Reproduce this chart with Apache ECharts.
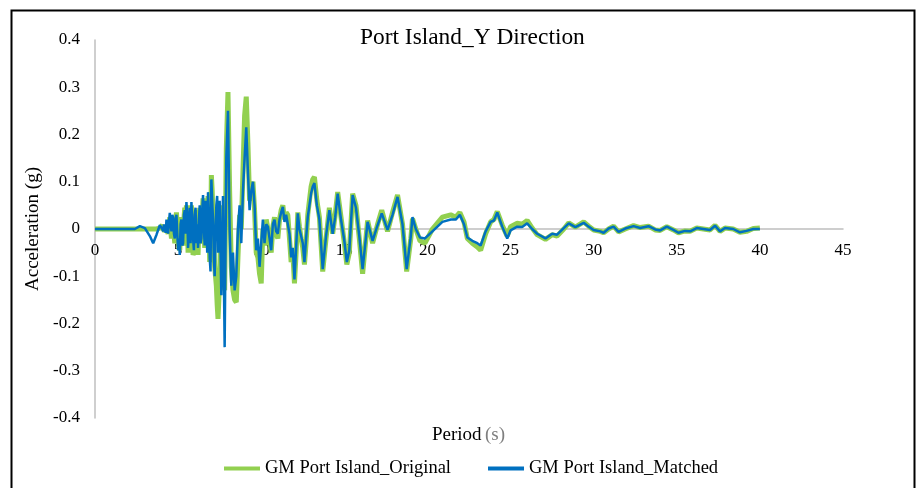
<!DOCTYPE html>
<html>
<head>
<meta charset="utf-8">
<script src="https://cdn.jsdelivr.net/npm/echarts@6/dist/echarts.min.js"></script>
<style>
html,body{margin:0;padding:0;background:#fff;}
#chart{width:917px;height:488px;}
</style>
</head>
<body>
<div id="chart"></div>
<script>
// Time (s)
const time = [
  0, 2.4, 2.7, 3.0, 3.3, 3.5, 3.7, 3.9,
  4.00, 4.05, 4.10, 4.15, 4.20, 4.25, 4.30, 4.35, 4.40, 4.45,
  4.50, 4.55, 4.60, 4.65, 4.70, 4.75, 4.80, 4.85, 4.90, 4.95,
  5.00, 5.05, 5.10, 5.15, 5.20, 5.25, 5.30, 5.35, 5.40, 5.45,
  5.50, 5.55, 5.60, 5.65, 5.70, 5.75, 5.80, 5.85, 5.90, 5.95,
  6.00, 6.05, 6.10, 6.15, 6.20, 6.25, 6.30, 6.35, 6.40, 6.45,
  6.50, 6.55, 6.60, 6.65, 6.70, 6.75, 6.80, 6.85, 6.90, 6.95,
  7.00, 7.05, 7.10, 7.15, 7.20, 7.25, 7.30, 7.35, 7.40, 7.45, 7.50,
  7.6, 7.7, 7.8, 7.9,
  8.0, 8.1, 8.2, 8.3, 8.4, 8.5, 8.6, 8.7, 8.8, 8.9,
  9.0, 9.1, 9.2, 9.3, 9.4, 9.5, 9.6, 9.7, 9.8, 9.9,
  10.0, 10.1, 10.2, 10.3, 10.4, 10.5, 10.6, 10.7, 10.8, 10.9,
  11.0, 11.1, 11.2, 11.3, 11.4, 11.5, 11.6, 11.7, 11.8, 11.9,
  12.0, 12.1, 12.2, 12.3, 12.4, 12.5, 12.6, 12.7, 12.8, 12.9,
  13.0, 13.1, 13.2, 13.35, 13.5, 13.7, 13.9, 14.1, 14.3, 14.45, 14.6, 14.8,
  15.0, 15.15, 15.3, 15.5, 15.7, 15.9, 16.1, 16.4, 16.7, 17.0, 17.25, 17.6, 17.9,
  18.2, 18.5, 18.75, 19.0, 19.1, 19.3, 19.55, 19.85, 20.3, 20.9, 21.4, 21.7, 21.95,
  22.2, 22.4, 22.7, 23.0, 23.2, 23.5, 23.8, 24.0, 24.2, 24.5, 24.8, 25.0, 25.4,
  25.7, 26.0, 26.3, 26.6, 27.1, 27.5, 27.8, 28.2, 28.5, 28.9, 29.4, 29.7,
  30.0, 30.4, 30.6, 30.9, 31.2, 31.5, 31.9, 32.4, 32.8, 33.3, 33.7, 34.0, 34.4,
  34.8, 35.1, 35.5, 35.8, 36.2, 36.6, 37.0, 37.3, 37.6, 37.9, 38.4, 38.8, 39.2, 39.6, 40.0
];

// GM Port Island_Original (g)
const original = [
  0, 0, 0, 0, 0, 0, 0, 0.002,
  0.005, 0.008, 0.0, -0.004, -0.005, 0.006, 0.01, -0.005, -0.01, 0.01,
  0.025, 0.0, -0.02, 0.01, 0.02, -0.01, -0.03, 0.01, 0.035, 0.0,
  -0.03, -0.04, -0.045, 0.0, 0.025, -0.02, -0.035, 0.02, 0.045, 0.01,
  0.05, 0.02, -0.05, -0.01, 0.04, -0.02, 0.05, 0.0, -0.055, -0.05,
  0.02, 0.04, -0.05, -0.01, -0.055, 0.0, 0.045, -0.02, -0.03, 0.03,
  0.065, 0.01, -0.04, 0.05, 0.03, -0.04, 0.07, 0.02, -0.07, -0.05,
  0.114, 0.08, 0.03, -0.03, -0.08, -0.1, -0.12, -0.16, -0.19, -0.15, -0.1,
  0.05, -0.05, -0.13, 0.17,
  0.29, 0.08, -0.08, -0.13, -0.15, -0.155, -0.06, 0.03, 0.0, 0.12,
  0.24, 0.28, 0.18, 0.06, 0.09, 0.1, 0.04, -0.05, -0.06, -0.095,
  -0.115, 0.0, -0.035, 0.02, 0.0, -0.03, -0.05, 0.005, 0.025, -0.01,
  -0.02, 0.02, 0.04, 0.05, 0.02, 0.035, 0.03, -0.02, -0.07, -0.05,
  -0.115, -0.05, 0.035, 0.005, -0.02, -0.04, -0.075, -0.03, 0.03, 0.06,
  0.09, 0.105, 0.11, 0.06, 0.025, -0.09, -0.02, 0.045, -0.01, 0.03, 0.078, 0.025,
  -0.03, -0.075, -0.05, 0.075, 0.05, -0.02, -0.095, 0.018, -0.03, 0.01, 0.04, -0.005, 0.035,
  0.072, 0.01, -0.09, -0.02, 0.022, 0.0, -0.025, -0.03, 0.0, 0.025, 0.03, 0.025, 0.035,
  0.015, -0.02, -0.03, -0.038, -0.045, -0.01, 0.015, 0.02, 0.037, 0.008, -0.015, 0.005, 0.012,
  0.01, 0.018, 0.002, -0.012, -0.022, -0.012, -0.015, 0.0, 0.013, 0.004, 0.015, 0.006,
  -0.002, -0.005, -0.008, 0.0, 0.006, -0.006, 0.0, 0.007, 0.003, 0.006, -0.002, -0.003, 0.005,
  -0.002, -0.008, -0.004, -0.005, 0.002, 0.0, -0.002, 0.008, -0.005, 0.002, 0.0, -0.007, -0.005, 0.001, 0.002
];

// GM Port Island_Matched (g)
const matched = [
  0, 0, 0.006, 0.002, -0.015, -0.03, -0.012, 0.008,
  0.012, 0.0, -0.005, 0.01, 0.004, -0.008, 0.02, 0.005, -0.01, 0.015,
  0.034, 0.01, -0.005, 0.03, 0.025, -0.01, -0.02, 0.02, 0.03, -0.01,
  -0.045, -0.02, -0.055, 0.01, 0.02, -0.035, -0.03, 0.03, 0.04, -0.01,
  0.057, 0.03, -0.04, 0.0, 0.045, -0.03, 0.057, 0.02, -0.02, -0.045,
  0.03, 0.045, -0.03, 0.01, -0.04, 0.02, 0.05, -0.03, -0.02, 0.04,
  0.072, 0.0, -0.035, 0.06, 0.04, -0.05, 0.078, 0.03, -0.06, -0.09,
  0.105, 0.06, 0.02, -0.06, -0.1, 0.0, 0.05, 0.07, -0.05, 0.02, 0.06,
  -0.14, 0.07, -0.25, 0.15,
  0.25, 0.0, -0.12, -0.05, -0.13, -0.1, 0.0, 0.05, -0.03, 0.08,
  0.15, 0.215, 0.12, 0.04, 0.08, 0.1, 0.05, -0.045, -0.02, -0.08,
  -0.03, 0.02, -0.03, 0.01, 0.005, -0.02, -0.045, 0.01, 0.02, -0.005,
  -0.01, 0.02, 0.035, 0.047, 0.015, 0.03, 0.033, -0.01, -0.06, -0.04,
  -0.107, -0.04, 0.033, 0.0, -0.015, -0.03, -0.07, -0.02, 0.025, 0.05,
  0.075, 0.09, 0.097, 0.05, 0.02, -0.085, -0.015, 0.04, -0.01, 0.025, 0.075, 0.02,
  -0.025, -0.07, -0.045, 0.072, 0.045, -0.015, -0.085, 0.015, -0.025, 0.008, 0.033, -0.002, 0.03,
  0.068, 0.01, -0.085, -0.015, 0.025, 0.0, -0.018, -0.02, -0.005, 0.015, 0.02, 0.02, 0.03,
  0.01, -0.018, -0.025, -0.03, -0.035, -0.005, 0.015, 0.018, 0.035, 0.005, -0.02, -0.003, 0.005,
  0.004, 0.012, 0.0, -0.01, -0.02, -0.01, -0.012, 0.002, 0.012, 0.004, 0.013, 0.005,
  -0.002, -0.005, -0.008, 0.001, 0.005, -0.006, 0.001, 0.006, 0.002, 0.006, -0.001, -0.003, 0.005,
  -0.002, -0.008, -0.004, -0.005, 0.002, 0.0, -0.002, 0.007, -0.005, 0.002, 0.0, -0.007, -0.004, 0.0, 0.0
];

const xTicks = { min: 0, max: 45, interval: 5 };
const yTicks = { min: -0.4, max: 0.4, interval: 0.1 };

const serif = '"Liberation Serif", "Times New Roman", serif';
const chart = echarts.init(document.getElementById('chart'), null, { renderer: 'canvas' });

const zip = (vals) => time.map((t, i) => [t, vals[i]]);

const gridTop = 40, gridBottomPx = 418;
const zeroOffset = -((gridBottomPx - gridTop) * (0 - yTicks.min) / (yTicks.max - yTicks.min));

chart.setOption({
  backgroundColor: '#fff',
  animation: false,
  title: {
    text: 'Port Island_Y Direction',
    left: 355,
    top: 21,
    textStyle: { fontFamily: serif, fontSize: 23.4, fontWeight: 'normal', color: '#000' }
  },
  grid: { left: 95, right: 74, top: gridTop, bottom: 488 - gridBottomPx, containLabel: false },
  legend: {
    bottom: 5,
    left: 219,
    itemWidth: 36,
    itemHeight: 4,
    itemGap: 37,
    icon: 'rect',
    textStyle: { fontFamily: serif, fontSize: 18.5, color: '#000' },
    data: ['GM Port Island_Original', 'GM Port Island_Matched']
  },
  xAxis: {
    type: 'value',
    min: xTicks.min, max: xTicks.max, interval: xTicks.interval,
    offset: zeroOffset,
    axisLine: { show: true, onZero: false, lineStyle: { color: '#BFBFBF', width: 1.5 } },
    axisTick: { show: false },
    splitLine: { show: false },
    axisLabel: { fontFamily: serif, fontSize: 17, color: '#000', margin: 13 }
  },
  yAxis: {
    type: 'value',
    min: yTicks.min, max: yTicks.max, interval: yTicks.interval,
    name: 'Acceleration (g)',
    nameLocation: 'middle',
    nameGap: 45,
    nameTextStyle: { fontFamily: serif, fontSize: 19, color: '#000' },
    axisLine: { show: true, lineStyle: { color: '#BFBFBF', width: 1.5 } },
    axisTick: { show: false },
    splitLine: { show: false },
    axisLabel: { fontFamily: serif, fontSize: 17, color: '#000', margin: 15 }
  },
  graphic: [
    {
      type: 'rect', left: 9, top: 8, z: 100, silent: true,
      shape: { width: 903, height: 500 },
      style: { fill: 'none', stroke: '#000', lineWidth: 2 }
    },
    {
      type: 'text', left: 432, top: 426, z: 100,
      style: {
        text: '{a|Period} {b|(s)}',
        rich: {
          a: { fontFamily: serif, fontSize: 19, fill: '#000' },
          b: { fontFamily: serif, fontSize: 19, fill: '#7F7F7F' }
        }
      }
    }
  ],
  series: [
    {
      name: 'GM Port Island_Original',
      type: 'line',
      showSymbol: false,
      symbol: 'none',
      data: zip(original),
      lineStyle: { color: '#92D050', width: 5 },
      itemStyle: { color: '#92D050' },
      z: 2
    },
    {
      name: 'GM Port Island_Matched',
      type: 'line',
      showSymbol: false,
      symbol: 'none',
      data: zip(matched),
      lineStyle: { color: '#0070C0', width: 2.5 },
      itemStyle: { color: '#0070C0' },
      z: 3
    }
  ]
});
</script>
</body>
</html>
